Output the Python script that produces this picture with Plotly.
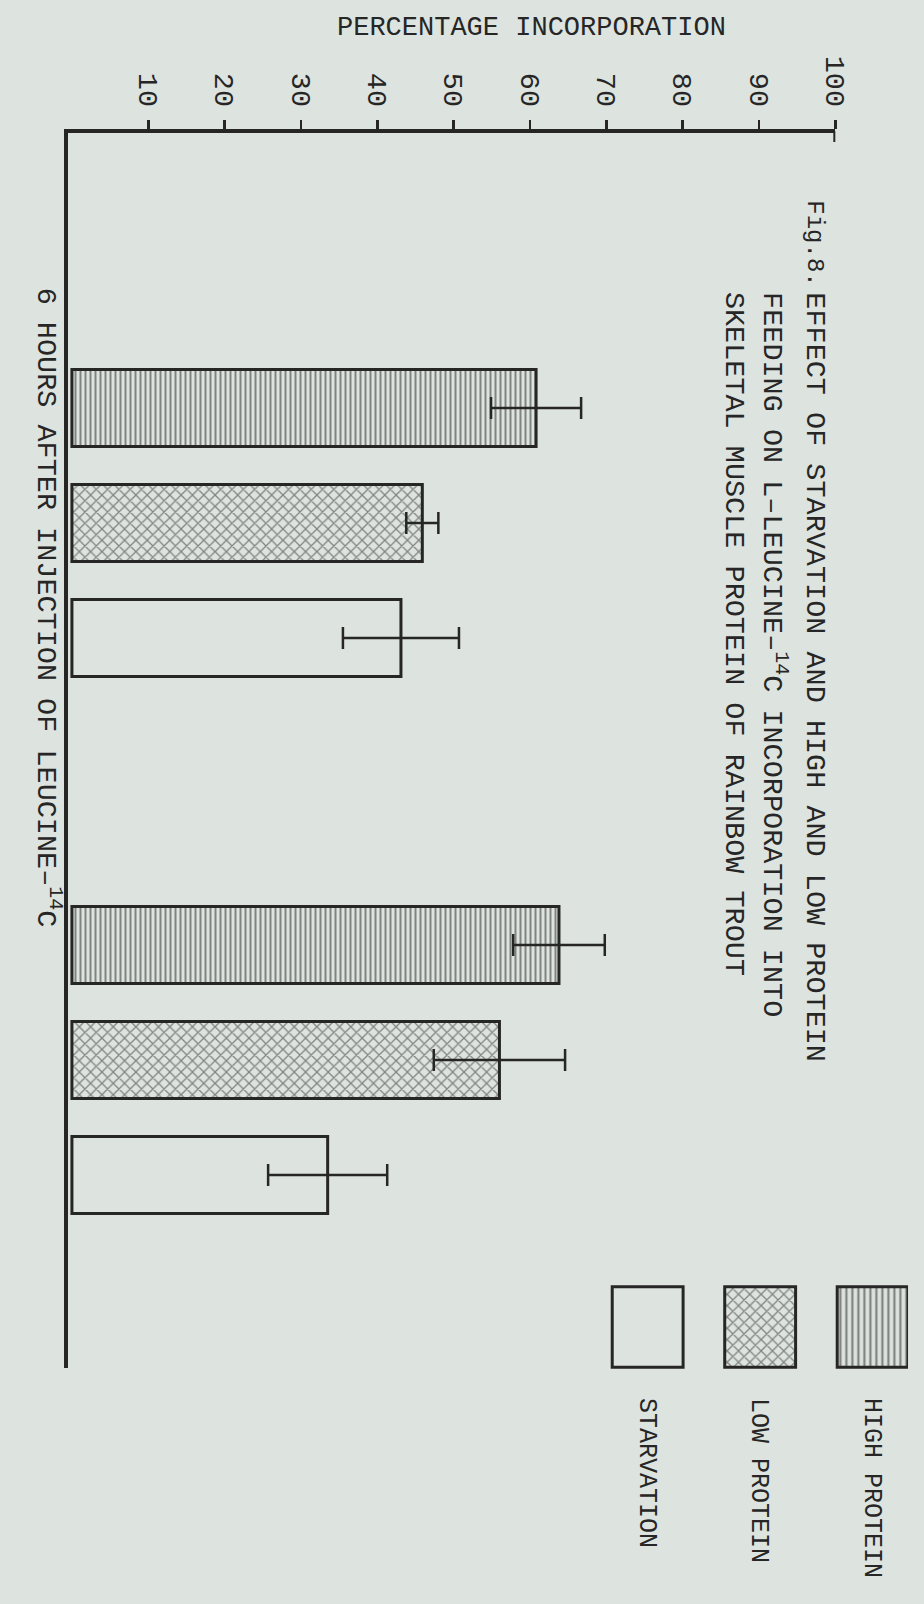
import plotly.graph_objects as go

# ---------------- data ----------------
series = ["HIGH PROTEIN", "LOW PROTEIN", "STARVATION"]
group_labels = ["", "6 HOURS AFTER INJECTION OF LEUCINE–<sup>14</sup>C"]
groups = [0, 1]
high_protein = [60.8, 63.8]
low_protein = [45.9, 56.0]
starvation = [43.1, 33.5]
high_err = [5.9, 6.0]
low_err = [2.1, 8.6]
starv_err = [7.6, 7.8]
x_ticks = [10, 20, 30, 40, 50, 60, 70, 80, 90, 100]
legend_key = [1, 1, 1]

title_lines = [
    "EFFECT OF STARVATION AND HIGH AND LOW PROTEIN",
    "FEEDING ON L–LEUCINE–<sup>14</sup>C INCORPORATION INTO",
    "SKELETAL MUSCLE PROTEIN OF RAINBOW TROUT",
]
fig_label = "Fig.8."
x_title = "PERCENTAGE INCORPORATION"

# ---------------- style ----------------
W, H = 924, 1604
ML, MR, MT, MB = 68, 0, 133, 0
PW, PH = W - ML - MR, H - MT - MB
PAPER = "#dde3de"
INK = "#262626"
FONT = "Liberation Mono, Courier New, monospace"
FS = 28.5


def px_x(p):
    return (p - ML) / PW


def px_y(p):
    return (H - MB - p) / PH


patterns = [
    dict(shape="|", size=5, solidity=0.4, fgcolor=INK, bgcolor=PAPER),
    dict(shape="x", size=8, solidity=0.3, fgcolor=INK, bgcolor=PAPER),
    dict(shape="", fgcolor=INK, bgcolor=PAPER),
]
values = [high_protein, low_protein, starvation]
errors = [high_err, low_err, starv_err]

fig = go.Figure()
for name, vals, errs, pat in zip(series, values, errors, patterns):
    fig.add_trace(go.Bar(
        x=vals, y=groups, orientation="h", name=name,
        marker=dict(color=PAPER, pattern=pat, line=dict(color=INK, width=3)),
        error_x=dict(type="data", array=errs, color=INK, thickness=2.5, width=11),
        showlegend=False, xaxis="x", yaxis="y", hoverinfo="skip",
    ))

# legend key drawn as a small bar subplot
fig.add_trace(go.Bar(
    x=series[::-1], y=legend_key, xaxis="x2", yaxis="y2", showlegend=False,
    width=0.63, hoverinfo="skip",
    marker=dict(color=PAPER, line=dict(color=INK, width=3),
                pattern=dict(shape=["", "x", "|"], size=[5, 8, 6],
                             solidity=[0.3, 0.3, 0.38], fgcolor=INK, bgcolor=PAPER)),
))

# value axis: pixel 72 -> 0, pixel 849 -> 100, axis line starts at pixel 68
x0_px, x100_px = 72.0, 849.0
px_per_unit = (x100_px - x0_px) / 100.0
x_lo = -(x0_px - ML) / px_per_unit

# y range in group units (group centres at 523 and 1060 px)
g0, g1 = 523.0, 1060.0
unit = g1 - g0
y_top = -(g0 - MT) / unit
y_bot = (1368 - g0) / unit

# legend x axis: category centres
lc0, lstep = 658.0, 114.5
lx_lo = -0.5
lx_hi = (W - 1 - lc0) / lstep

fig.update_layout(
    width=W, height=H,
    margin=dict(l=ML, r=MR, t=MT, b=MB),
    paper_bgcolor=PAPER, plot_bgcolor="rgba(0,0,0,0)",
    barmode="group", bargap=0.3575, bargroupgap=0.33,
    font=dict(family=FONT, size=FS, color=INK),
    xaxis=dict(
        domain=[0, (x100_px - ML) / PW], range=[x_lo, 100], side="top",
        showline=True, linewidth=4, linecolor=INK,
        ticks="outside", ticklen=9, tickwidth=2.5, tickcolor=INK,
        tickvals=x_ticks, tickangle=90, ticklabelstandoff=3,
        tickfont=dict(family=FONT, size=FS, color=INK),
        showgrid=False, zeroline=False, anchor="y",
    ),
    yaxis=dict(
        domain=[px_y(1368), 1], range=[y_bot, y_top],
        showline=True, linewidth=4, linecolor=INK,
        showticklabels=False, ticks="", showgrid=False, zeroline=False,
        anchor="x",
    ),
    xaxis2=dict(
        domain=[px_x(lc0 + lx_lo * lstep), px_x(lc0 + lx_hi * lstep)],
        range=[lx_lo, lx_hi], anchor="y2", type="category",
        categoryorder="array", categoryarray=series[::-1],
        showline=False, ticks="", showgrid=False, zeroline=False,
        tickangle=90, ticklabelstandoff=26,
        tickfont=dict(family=FONT, size=25, color=INK),
    ),
    yaxis2=dict(
        domain=[px_y(1371), px_y(1283)], range=[-0.045, 1.045], anchor="x2",
        showline=False, showticklabels=False, ticks="", showgrid=False,
        zeroline=False,
    ),
)

# small downward hook at the end of the value axis
fig.add_shape(type="line", xref="x", yref="paper", x0=100, x1=100,
              y0=px_y(131), y1=px_y(142), line=dict(color=INK, width=4))

ann = []
ann.append(dict(text=x_title, x=px_x(540), y=px_y(28), xref="paper", yref="paper",
                xanchor="center", yanchor="middle", showarrow=False,
                font=dict(family=FONT, size=27, color=INK)))
ann.append(dict(text=fig_label, x=px_x(828), y=px_y(198), xref="paper", yref="paper",
                xanchor="center", yanchor="top", textangle=90, showarrow=False,
                font=dict(family=FONT, size=24, color=INK)))
for line, cx in zip(title_lines, [828, 787, 746]):
    ann.append(dict(text=line, x=px_x(cx), y=px_y(290), xref="paper", yref="paper",
                    xanchor="center", yanchor="top", textangle=90, showarrow=False,
                    font=dict(family=FONT, size=FS, color=INK)))
ann.append(dict(text=group_labels[1], x=px_x(48), y=px_y(930), xref="paper", yref="paper",
                xanchor="center", yanchor="bottom", textangle=90, showarrow=False,
                font=dict(family=FONT, size=FS, color=INK)))
fig.update_layout(annotations=ann)

fig.write_html(
    "out.html",
    config={"displayModeBar": False, "staticPlot": True},
    post_script="document.body.style.margin='0';document.body.style.overflow='hidden';",
)
